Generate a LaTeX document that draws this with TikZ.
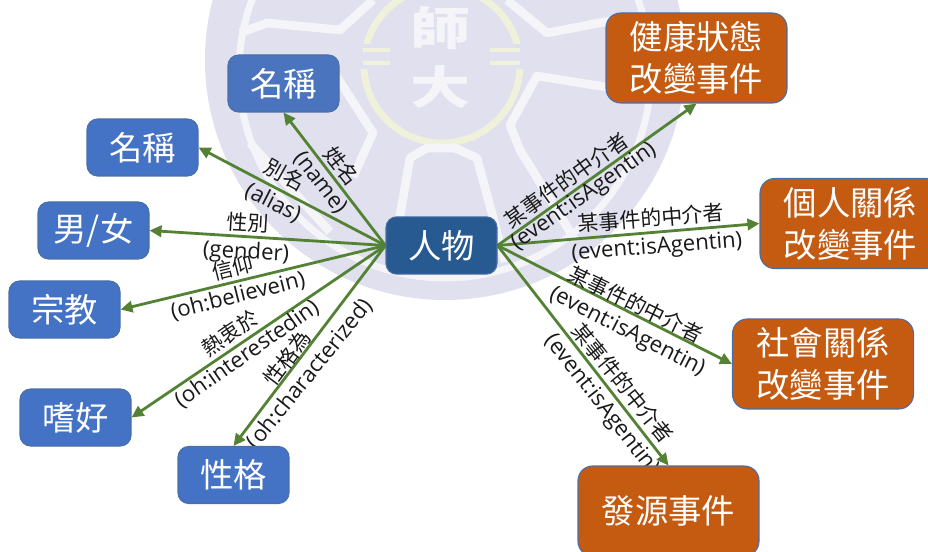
\documentclass[tikz,border=0pt]{standalone}
\usepackage{fontspec}
\setmainfont{Open Sans}
\newfontfamily\cjk{Noto Sans CJK TC}
\usetikzlibrary{arrows.meta}
\definecolor{wm}{HTML}{E0E0EE}
\definecolor{wmline}{HTML}{F4F4F9}
\definecolor{wmring}{HTML}{EFF1DA}
\definecolor{bluebox}{HTML}{4472C4}
\definecolor{blueedge}{HTML}{4A6FA8}
\definecolor{bluetop}{HTML}{4A74BE}
\definecolor{navy}{HTML}{285A92}
\definecolor{orangebox}{HTML}{C55A11}
\definecolor{arrowgreen}{HTML}{548235}
\pgfdeclarelayer{seal}
\pgfdeclarelayer{links}
\pgfsetlayers{seal,links,main}
\tikzset{
  boxbase/.style={rounded corners=8pt,line width=.8pt,draw=blueedge,text=white,inner sep=0pt,
    font=\cjk\fontsize{25}{31.5}\selectfont,align=center},
  bluenode/.style={boxbase,fill=bluebox,minimum width=83.25pt,minimum height=42.75pt},
  hubnode/.style={boxbase,fill=navy,minimum width=83.25pt,minimum height=43pt},
  orangenode/.style={boxbase,fill=orangebox,rounded corners=11pt,minimum width=135.75pt,minimum height=67.5pt},
  linkarrow/.style={line width=2.1pt,draw=arrowgreen,-{Triangle[length=9pt,width=8.5pt]}},
  zh/.style={inner sep=0pt,font=\cjk\fontsize{15.7}{16}\selectfont,text=black!90},
  en/.style={inner sep=0pt,font=\fontsize{16.6}{17}\selectfont,text=black!90},
  wmband/.style={draw=wmline,line width=6.5pt,line join=round},
  wmtick/.style={draw=wmring,line width=3.6pt},
  wmtext/.style={inner sep=0pt,text=wmline,yscale=.76,font=\cjk\bfseries\fontsize{45}{45}\selectfont}
}
\begin{document}
\begin{tikzpicture}[x=0.75pt,y=-0.75pt]
\useasboundingbox (0,0) rectangle (928,552);
% nodes
\node[hubnode] (hub) at (441.5,245.5) {人物};
\node[bluenode,fill=bluetop] (nameA) at (283.5,83.5) {名稱};
\node[bluenode] (nameB) at (142.5,147.5) {名稱};
\node[bluenode] (gender) at (93.5,230.5) {男/女};
\node[bluenode] (religion) at (64.5,309.5) {宗教};
\node[bluenode] (hobby) at (75.5,417.5) {嗜好};
\node[bluenode] (trait) at (233.5,475) {性格};
\node[orangenode] (health) at (696.5,58) {健康狀態\\改變事件};
\node[orangenode] (personal) at (850.5,223.5) {個人關係\\改變事件};
\node[orangenode] (social) at (823,364) {社會關係\\改變事件};
\node[orangenode] (origin) at (668.5,511) {發源事件};
% watermark
\begin{pgfonlayer}{seal}
\begin{scope}
\clip (0,0) rectangle (928,552);
\fill[wm] (445,60) circle[radius=240];
\draw[wmline,line width=5.25pt] (445,72) circle[radius=206];
\draw[wmring,line width=5.25pt] (442,65) circle[radius=78];
\fill[wm] (355,44) rectangle (395,69);
\fill[wm] (488,44) rectangle (528,69);
\draw[wmtick] (363,50) -- (390,50) (363,63) -- (390,63) (490,50) -- (520,50) (490,63) -- (520,63);
\draw[wmband] (392,262) -- (410,158) -- (427,148) -- (455,148) -- (477,158) -- (505,262);
\draw[wmband] (625,90) -- (537,76) -- (510,125) -- (520,150) -- (575,240);
\draw[wmband] (507,0) -- (547,33) -- (625,18);
\draw[wmband] (240,33) -- (267,23) -- (340,30) -- (373,0);
\draw[wmband] (337,77) -- (373,133) -- (353,177);
\draw[wmband] (250,143) -- (330,232);
\node[wmtext] (wmshi) at (440,28) {師};
\node[wmtext] (wmda) at (440,87) {大};
\end{scope}
\end{pgfonlayer}
% connectors and their labels sit under the nodes
\begin{pgfonlayer}{links}
\draw[linkarrow] (hub.west) -- (nameA.south);
\draw[linkarrow] (hub.west) -- (nameB.east);
\draw[linkarrow] (hub.west) -- (gender.east);
\draw[linkarrow] (hub.west) -- (religion.east);
\draw[linkarrow] (hub.west) -- (hobby.east);
\draw[linkarrow] (hub.west) -- (trait.north);
\draw[linkarrow] (hub.east) -- (health.south);
\draw[linkarrow] (hub.east) -- (personal.west);
\draw[linkarrow] (hub.east) -- (social.west);
\draw[linkarrow] (hub.east) -- (origin.north);
\node[zh,rotate=-52] (l1) at (342,166) {姓名};
\node[en,rotate=-52] (l2) at (320,183) {(name)};
\node[zh,rotate=-29] (l3) at (285,175) {別名};
\node[en,rotate=-27] (l4) at (273,203) {(alias)};
\node[zh,rotate=-3.4] (l5) at (248,223) {性別};
\node[en,rotate=-3.4] (l6) at (246,253) {(gender)};
\node[zh,rotate=14] (l7) at (233,268) {信仰};
\node[en,rotate=14] (l8) at (238,296) {(oh:believein)};
\node[zh,rotate=34] (l9) at (230,333) {熱衷於};
\node[en,rotate=35] (l10) at (247,354) {(oh:interestedin)};
\node[zh,rotate=53] (l11) at (287,358) {性格為};
\node[en,rotate=51] (l12) at (310,374) {(oh:characterized)};
\node[zh,rotate=35.6] (l13) at (566,180) {某事件的中介者};
\node[en,rotate=35] (l14) at (584,197) {(event:isAgentin)};
\node[zh,rotate=4.6] (l15) at (651,218) {某事件的中介者};
\node[en,rotate=4.6] (l16) at (657,248) {(event:isAgentin)};
\node[zh,rotate=-26] (l17) at (636,304) {某事件的中介者};
\node[en,rotate=-27] (l18) at (627,332) {(event:isAgentin)};
\node[zh,rotate=-51] (l19) at (623,383) {某事件的中介者};
\node[en,rotate=-52] (l20) at (601,405) {(event:isAgentin)};
\end{pgfonlayer}
\end{tikzpicture}
\end{document}
